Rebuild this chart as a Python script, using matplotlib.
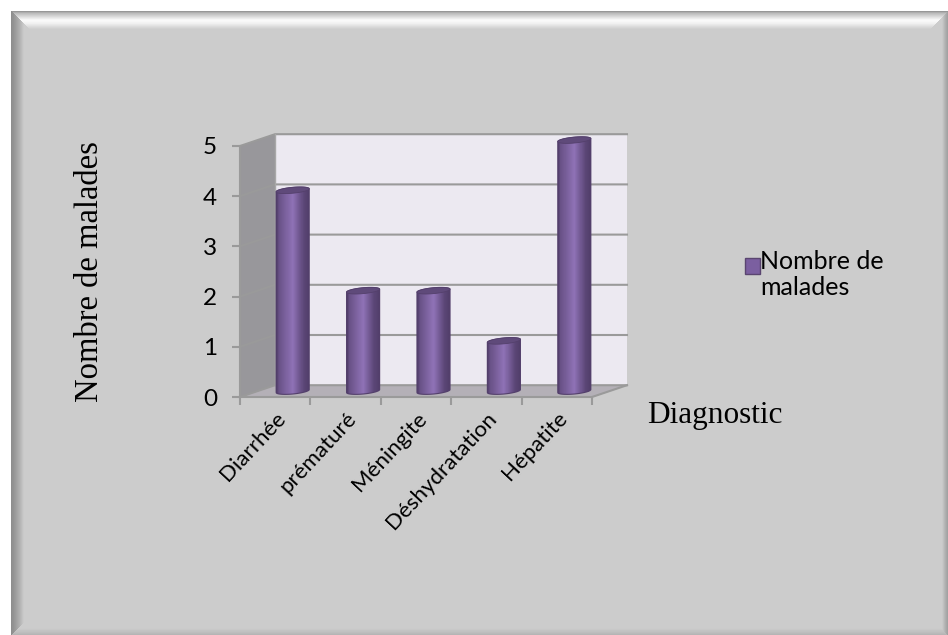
import numpy as np
import matplotlib
matplotlib.use("Agg")
import matplotlib.pyplot as plt
from matplotlib.patches import Polygon, PathPatch, Patch, Rectangle
from matplotlib.path import Path
from matplotlib.legend_handler import HandlerPatch

categories = ["Diarrhée", "prématuré", "Méningite", "Déshydratation", "Hépatite"]
malades = [4, 2, 2, 1, 5]
series_name = "Nombre de\nmalades"
x_title = "Diagnostic"
y_title = "Nombre de malades"

W, H = 948, 635
plt.rcParams["font.family"] = ["Lato", "DejaVu Sans"]
fig = plt.figure(figsize=(W / 100, H / 100), dpi=100)

# Panel background with a bevelled frame
yy, xx = np.mgrid[0:H, 0:W] + 0.5
left, top, right, bottom = xx - 11, yy - 11, W - xx, H - yy
nearest = np.argmin(np.stack([left, top, right, bottom]), axis=0)
depth = np.min(np.stack([left, top, right, bottom]), axis=0)
base = 0.80
shade = np.full((H, W), base)
stops_left = np.interp(depth, [0, 4, 9, 13], [0.55, 0.60, 0.70, base])
stops_top = np.interp(depth, [0, 2, 9, 12, 18], [0.55, 0.72, 0.98, 0.95, base])
stops_right = np.interp(depth, [0, 3, 6], [0.62, 0.70, base])
stops_bottom = np.interp(depth, [0, 3, 7], [0.70, 0.75, base])
for k, stops in enumerate([stops_left, stops_top, stops_right, stops_bottom]):
    shade[nearest == k] = stops[nearest == k]
shade[(left < 0) | (top < 0)] = 1.0
bg = fig.add_axes([0, 0, 1, 1], zorder=0)
bg.imshow(shade, cmap="gray", vmin=0, vmax=1, aspect="auto", interpolation="nearest")
bg.axis("off")

# Front plane of the 3D plot box; depth is expressed in data units
ax = fig.add_axes([240 / W, 1 - 397 / H, 352 / W, 251 / H], zorder=1)
ax.patch.set_alpha(0)
n = len(categories)
ymax = 5
DX, DY = 0.497, 0.235

grid = "#9a9a9a"
ax.add_patch(Polygon([(DX, DY), (n + DX, DY), (n + DX, ymax + DY), (DX, ymax + DY)],
                     fc="#ece9f1", ec="none", clip_on=False, zorder=1))
ax.add_patch(Polygon([(0, 0), (DX, DY), (DX, ymax + DY), (0, ymax)],
                     fc="#98979b", ec="none", clip_on=False, zorder=1))
ax.add_patch(Polygon([(0, 0), (n, 0), (n + DX, DY), (DX, DY)],
                     fc="#b4b0b7", ec="none", clip_on=False, zorder=1))
for v in range(ymax + 1):
    ax.plot([0, DX, n + DX], [v, v + DY, v + DY], color=grid, lw=1.5,
            clip_on=False, zorder=2, solid_joinstyle="miter")
ax.plot([DX, DX], [DY, ymax + DY], color="#a8a8a8", lw=1, clip_on=False, zorder=2)
ax.plot([n, n + DX], [0, DY], color=grid, lw=1.5, clip_on=False, zorder=2)

# Cylindrical bars: shaded body clipped to the outline, with a darker cap
cyl_w = 0.47
ry = 0.058
skew = 0.03
ramp = np.interp(np.linspace(0, 1, 64), [0, 0.08, 0.5, 0.84, 1], [0.0, 0.4, 1.0, 0.2, 0.05])
dark = np.array([0x4e, 0x3b, 0x66]) / 255
light = np.array([0x8f, 0x72, 0xb6]) / 255
body = (dark[None, :] + ramp[:, None] * (light - dark))[None, :, :]
t = np.linspace(0, 2 * np.pi, 73)
for i, value in enumerate(malades):
    cx = i + 0.5 + DX / 2
    y0 = DY / 2
    y1 = value + DY / 2
    ex = cx + cyl_w / 2 * np.cos(t)
    top_y = y1 + ry * np.sin(t) + skew * np.cos(t)
    low_y = y0 - ry * np.sin(t) + skew * np.cos(t)
    half = t <= np.pi
    outline = np.vstack([
        np.column_stack([ex[half][::-1], low_y[half][::-1]]),
        np.column_stack([ex[half], top_y[half]]),
    ])
    clip = PathPatch(Path(np.vstack([outline, outline[:1]])), transform=ax.transData,
                     fc="none", ec="#54406c", lw=0.8, clip_on=False, zorder=4)
    ax.add_patch(clip)
    xs = np.linspace(cx - cyl_w / 2, cx + cyl_w / 2, 65)
    mesh = ax.pcolormesh(xs, [y0 - 0.2, y1 + 0.2], body, shading="flat", zorder=3, antialiased=False)
    mesh.set_clip_box(None)
    mesh.set_clip_path(clip)
    ax.add_patch(Polygon(np.column_stack([ex, top_y]), fc="#5f4a7a", ec="#54406c",
                         lw=0.6, clip_on=False, zorder=5))
ax.set_xlim(0, n)
ax.set_ylim(0, ymax)

# Axes, ticks and text
for side in ("top", "right"):
    ax.spines[side].set_visible(False)
for side in ("left", "bottom"):
    ax.spines[side].set_color(grid)
    ax.spines[side].set_linewidth(1.5)
    ax.spines[side].set_zorder(2)
ax.set_yticks(range(ymax + 1))
ax.set_xticks(range(n + 1))
ax.set_xticklabels([])
ax.set_xticks(np.arange(n) + 0.5, categories, minor=True, rotation=47, ha="right",
              rotation_mode="anchor", fontsize=16, color="#000000")
ax.tick_params(axis="x", which="minor", length=0, pad=8)
ax.tick_params(axis="x", which="major", length=5.5, width=1.5, color=grid)
ax.tick_params(axis="y", length=5.5, width=1.5, color=grid, labelsize=17.5, pad=11, labelcolor="#000000")

fig.text(90 / W, 1 - 272 / H, y_title, rotation=90, ha="center", va="center",
         family="Liberation Serif", fontsize=23.5, color="#000000")
fig.text(715 / W, 1 - 416 / H, x_title, ha="center", va="center",
         family="Liberation Serif", fontsize=22.5, color="#000000")


def raised_square(legend, orig_handle, xdescent, ydescent, width, height, fontsize):
    # Aligns the key with the first line of a two-line label
    return Rectangle((-xdescent, -ydescent + 6.5), width, height)


handle = Patch(fc="#7b5fa0", ec="#5a4570", lw=1)
leg = fig.legend([handle], [series_name], loc="upper left",
                 bbox_to_anchor=(745 / W, 1 - 250 / H), frameon=False, fontsize=18,
                 handlelength=0.6, handleheight=0.6, handletextpad=0.0,
                 borderpad=0, borderaxespad=0, labelspacing=0, alignment="left",
                 handler_map={Patch: HandlerPatch(patch_func=raised_square)})
leg.get_texts()[0].set_linespacing(1.15)

fig.savefig("out.png", dpi=100)
